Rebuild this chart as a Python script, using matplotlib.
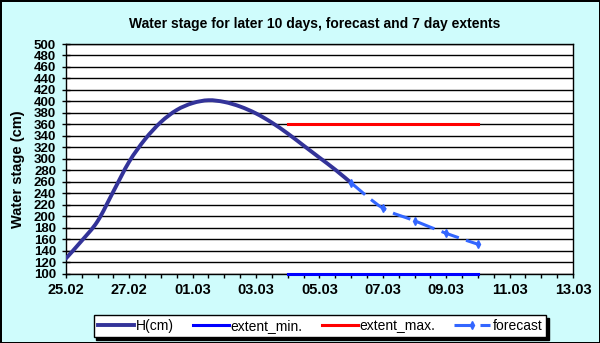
import numpy as np
import pandas as pd
import matplotlib
matplotlib.use('Agg')
import matplotlib.pyplot as plt
import matplotlib.dates as mdates
from matplotlib.ticker import MultipleLocator, FixedLocator
from matplotlib.path import Path
from matplotlib.patches import PathPatch
from matplotlib.lines import Line2D

plt.rcParams['font.family'] = ['Liberation Sans', 'DejaVu Sans']

# observed stage, every 12 hours
h_times = ['2023-02-25 00:00', '2023-02-25 12:00', '2023-02-26 00:00', '2023-02-26 12:00',
           '2023-02-27 00:00', '2023-02-27 12:00', '2023-02-28 00:00', '2023-02-28 12:00',
           '2023-03-01 00:00', '2023-03-01 12:00', '2023-03-02 00:00', '2023-03-02 12:00',
           '2023-03-03 00:00', '2023-03-03 12:00', '2023-03-04 00:00', '2023-03-04 12:00',
           '2023-03-05 00:00', '2023-03-05 12:00', '2023-03-06 00:00']
h_cm = [126, 157, 191, 243, 295, 334, 364, 385, 397, 402,
        399, 391, 379, 363, 344, 323, 302, 281, 258]

fc_times = ['2023-03-06', '2023-03-07', '2023-03-08', '2023-03-09', '2023-03-10']
fc_cm = [258, 214, 192, 170, 151]

ext_times = ['2023-03-04', '2023-03-10']
ext_min = [100, 100]
ext_max = [360, 360]

x_labels = ['25.02', '27.02', '01.03', '03.03', '05.03', '07.03', '09.03', '11.03', '13.03']
x_start, x_end = '2023-02-25', '2023-03-13'


def smooth_path(x, y):
    # excel-like smoothed line: cubic bezier through the points
    p = np.column_stack([x, y]).astype(float)
    ext = np.vstack([p[0], p, p[-1]])
    verts = [p[0]]
    codes = [Path.MOVETO]
    for i in range(len(p) - 1):
        p0, p1, p2, p3 = ext[i], ext[i + 1], ext[i + 2], ext[i + 3]
        verts += [p1 + (p2 - p0) / 6, p2 - (p3 - p1) / 6, p2]
        codes += [Path.CURVE4] * 3
    return Path(verts, codes)


bg = '#cffcfc'
fig = plt.figure(figsize=(6, 3.43), dpi=100, facecolor=bg)
fig.patch.set_edgecolor('black')
fig.patch.set_linewidth(2)
ax = fig.add_axes([0.1097, 0.2026, 0.8453, 0.6691])
ax.set_facecolor('white')

ht = mdates.date2num(pd.to_datetime(h_times))
ft = mdates.date2num(pd.to_datetime(fc_times))
et = mdates.date2num(pd.to_datetime(ext_times))

c_h, c_min, c_max, c_fc = '#333399', '#0000ff', '#ff0000', '#3366ff'
fc_dash = (0, (6, 2.5))

ax.add_patch(PathPatch(smooth_path(ht, h_cm), fill=False, edgecolor=c_h, lw=2.8,
                       capstyle='round', zorder=4))
ax.plot(et, ext_min, color=c_min, lw=2.2, clip_on=False, zorder=5)
ax.plot(et, ext_max, color=c_max, lw=2.2, zorder=4)
ax.add_patch(PathPatch(smooth_path(ft, fc_cm), fill=False, edgecolor=c_fc, lw=2.2,
                       linestyle=fc_dash, zorder=4))
ax.plot(ft, fc_cm, ls='none', marker='d', ms=4, color=c_fc, zorder=4)

x0 = mdates.date2num(pd.Timestamp(x_start))
x1 = mdates.date2num(pd.Timestamp(x_end))
ax.set_xlim(x0, x1)
ax.set_ylim(100, 500)
ax.xaxis.set_major_locator(FixedLocator(np.arange(x0, x1 + 0.1, 2)))
ax.xaxis.set_minor_locator(MultipleLocator(0.5))
ax.set_xticklabels(x_labels)
ax.yaxis.set_major_locator(MultipleLocator(20))
ax.grid(axis='y', color='black', lw=1)
ax.set_axisbelow(True)

for s in ax.spines.values():
    s.set_color('black')
    s.set_linewidth(1)

ax.tick_params(axis='y', which='major', direction='inout', length=6, width=1, pad=4,
               labelsize=9.5)
ax.tick_params(axis='x', which='both', direction='out', length=3, width=1, pad=4,
               labelsize=10.5)
for lab in ax.get_xticklabels() + ax.get_yticklabels():
    lab.set_fontweight('bold')

fig.text(314.5 / 600, 1 - 24 / 343, 'Water stage for later 10 days, forecast and 7 day extents',
         ha='center', va='center', fontsize=10, fontweight='bold')
fig.text(18 / 600, 1 - 169 / 343, 'Water stage (cm)', rotation=90, ha='center', va='center',
         fontsize=10.5, fontweight='bold')

handles = [Line2D([], [], color=c_h, lw=2.8),
           Line2D([], [], color=c_min, lw=2.2),
           Line2D([], [], color=c_max, lw=2.2),
           Line2D([], [], color=c_fc, lw=2.2, ls=fc_dash, marker='d', ms=4)]
names = ['H(cm)', 'extent_min.', 'extent_max.', 'forecast']
leg = fig.legend(handles, names, loc='center', bbox_to_anchor=(320 / 600, 1 - 326 / 343),
                 ncol=4, fontsize=10, handlelength=2.6, columnspacing=1.35, handletextpad=0.15,
                 borderpad=0.3, fancybox=False, edgecolor='black', framealpha=1,
                 shadow={'color': 'black', 'alpha': 1})
leg.get_frame().set_linewidth(1)

fig.savefig('out.png', dpi=100, facecolor=bg, edgecolor='black')
